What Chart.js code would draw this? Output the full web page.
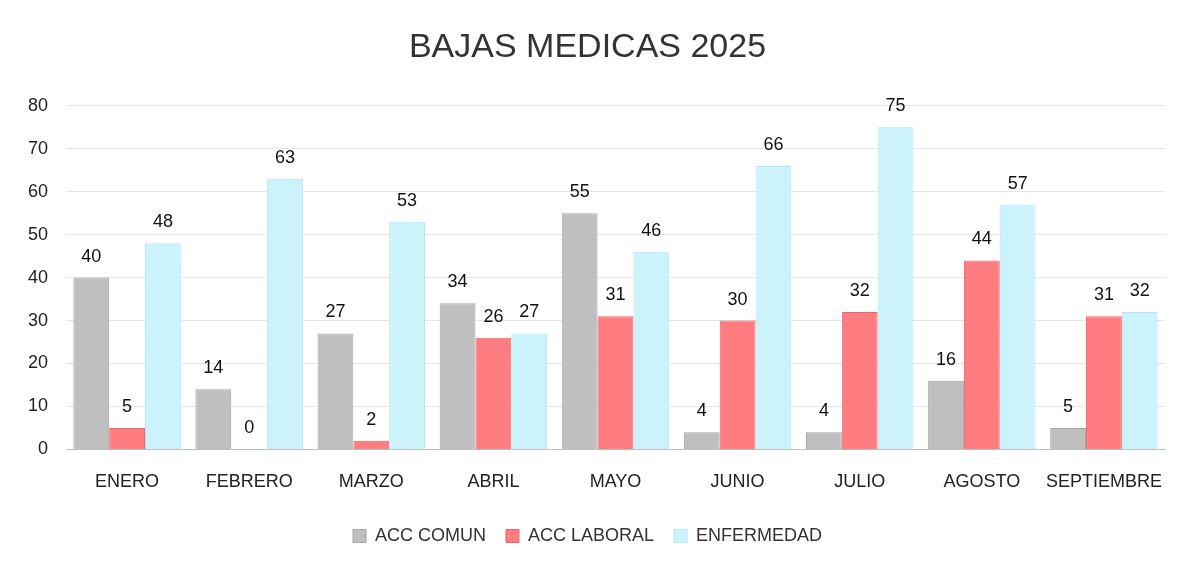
<!DOCTYPE html>
<html>
<head>
<meta charset="utf-8">
<script src="https://cdn.jsdelivr.net/npm/chart.js@4"></script>
<style>
  html, body { margin: 0; padding: 0; background: #fff; }
  #wrap { width: 1200px; height: 563px; }
</style>
</head>
<body>
<div id="wrap"><canvas id="myChart"></canvas></div>
<script>
const months = ['ENERO', 'FEBRERO', 'MARZO', 'ABRIL', 'MAYO', 'JUNIO', 'JULIO', 'AGOSTO', 'SEPTIEMBRE'];
const accComun = [40, 14, 27, 34, 55, 4, 4, 16, 5];
const accLaboral = [5, 0, 2, 26, 31, 30, 32, 44, 31];
const enfermedad = [48, 63, 53, 27, 46, 66, 75, 57, 32];

// draws the value above each bar
const valueLabels = {
    id: 'valueLabels',
    afterDatasetsDraw(chart) {
        const ctx = chart.ctx;
        ctx.save();
        ctx.font = '18px "Liberation Sans", Arial, sans-serif';
        ctx.fillStyle = '#111';
        ctx.textAlign = 'center';
        ctx.textBaseline = 'bottom';
        chart.data.datasets.forEach((ds, i) => {
            chart.getDatasetMeta(i).data.forEach((bar, j) => {
                ctx.fillText(ds.data[j], bar.x, bar.y - 12);
            });
        });
        ctx.restore();
    }
};

const ctx = document.getElementById('myChart').getContext('2d');

new Chart(ctx, {
    type: 'bar',
    data: {
        labels: months,
        datasets: [
            { label: 'ACC COMUN', data: accComun, backgroundColor: '#bfbfbf', borderColor: '#a5a5a5', borderWidth: 1 },
            { label: 'ACC LABORAL', data: accLaboral, backgroundColor: '#ff7c80', borderColor: '#e8666a', borderWidth: 1 },
            { label: 'ENFERMEDAD', data: enfermedad, backgroundColor: '#ccf2fc', borderColor: '#b5e6f4', borderWidth: 1 }
        ]
    },
    options: {
        responsive: true,
        maintainAspectRatio: false,
        animation: false,
        layout: { padding: { left: 10, right: 35, top: 10, bottom: 8 } },
        categoryPercentage: 0.88,
        barPercentage: 1.0,
        plugins: {
            title: {
                display: true,
                text: 'BAJAS MEDICAS 2025',
                color: '#333',
                font: { size: 34, family: '"Liberation Sans", Arial, sans-serif', weight: 'normal' },
                padding: { top: 17, bottom: 38 }
            },
            legend: {
                position: 'bottom',
                labels: {
                    color: '#333',
                    boxWidth: 13,
                    boxHeight: 13,
                    padding: 20,
                    font: { size: 18, family: '"Liberation Sans", Arial, sans-serif' }
                }
            },
            tooltip: { enabled: false }
        },
        scales: {
            y: {
                beginAtZero: true,
                min: 0,
                max: 80,
                ticks: {
                    stepSize: 10,
                    color: '#222',
                    padding: 18,
                    font: { size: 18, family: '"Liberation Sans", Arial, sans-serif' }
                },
                grid: { color: '#e6e6e6', drawTicks: false },
                border: { display: false }
            },
            x: {
                ticks: {
                    color: '#222',
                    padding: 14,
                    font: { size: 18, family: '"Liberation Sans", Arial, sans-serif' }
                },
                grid: { display: false },
                border: { color: '#bfbfbf' }
            }
        }
    },
    plugins: [valueLabels]
});
</script>
</body>
</html>
